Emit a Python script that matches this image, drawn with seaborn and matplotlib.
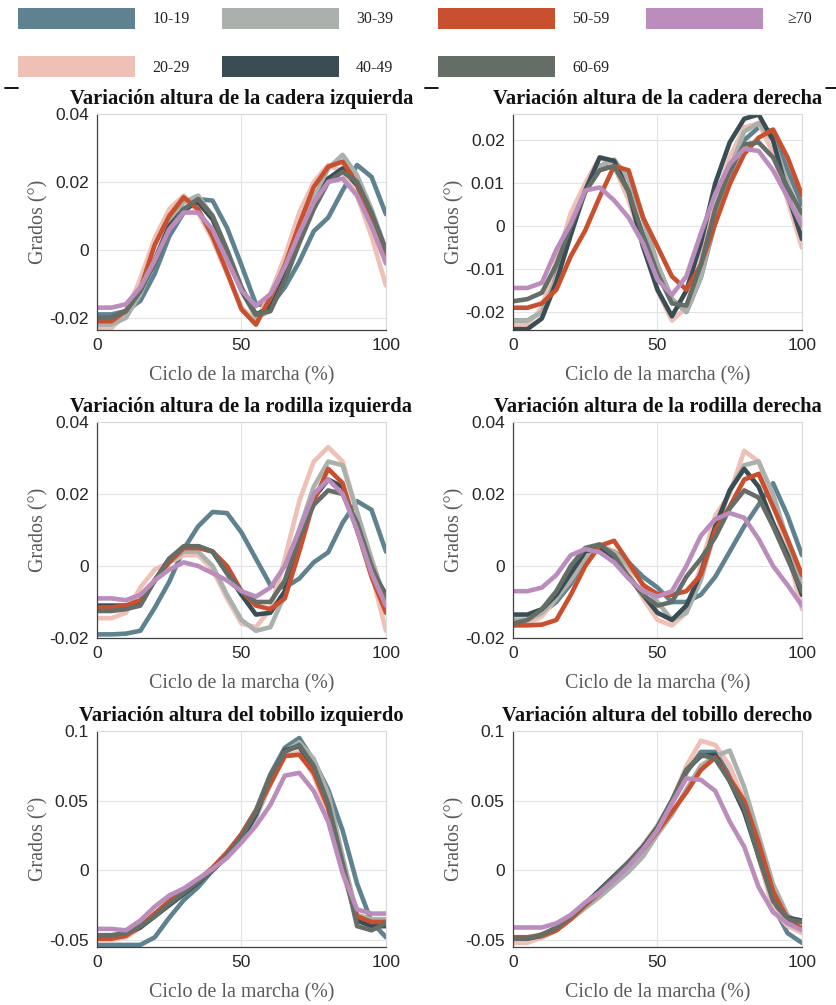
import matplotlib
matplotlib.use("Agg")
import matplotlib.pyplot as plt
from matplotlib.patches import Patch
from matplotlib.lines import Line2D
import pandas as pd
import seaborn as sns

# Percentage of the gait cycle at which every curve is sampled
ciclo = [0, 5, 10, 15, 20, 25, 30, 35, 40, 45, 50, 55, 60, 65, 70, 75, 80, 85, 90, 95, 100]

grupos = ["10-19", "20-29", "30-39", "40-49", "50-59", "60-69", "≥70"]
colores = ["#5f8290", "#efc0b6", "#aab0ab", "#3a4d55", "#c9502f", "#656e66", "#bb8dbd"]

# Mean curves per age group (same order as `grupos`)
cadera_izquierda = [
    [-0.019, -0.019, -0.018, -0.015, -0.007, 0.004, 0.011, 0.015, 0.0145, 0.0065, -0.0045, -0.016, -0.0165, -0.011, -0.0035, 0.0055, 0.0095, 0.0175, 0.025, 0.0215, 0.0105],
    [-0.023, -0.023, -0.019, -0.0085, 0.0035, 0.012, 0.016, 0.011, 0.003, -0.007, -0.017, -0.021, -0.013, -0.002, 0.011, 0.020, 0.025, 0.023, 0.016, 0.004, -0.0105],
    [-0.022, -0.022, -0.020, -0.013, -0.003, 0.008, 0.014, 0.016, 0.010, 0.000, -0.012, -0.020, -0.018, -0.008, 0.004, 0.015, 0.024, 0.028, 0.022, 0.012, 0.000],
    [-0.0205, -0.020, -0.018, -0.012, -0.003, 0.007, 0.012, 0.014, 0.009, -0.001, -0.012, -0.019, -0.017, -0.008, 0.003, 0.013, 0.021, 0.024, 0.019, 0.009, -0.003],
    [-0.021, -0.021, -0.018, -0.0115, 0.0015, 0.010, 0.0155, 0.012, 0.004, -0.0065, -0.0175, -0.022, -0.014, -0.0045, 0.0075, 0.0185, 0.0245, 0.026, 0.0195, 0.0085, -0.0015],
    [-0.020, -0.020, -0.018, -0.012, -0.004, 0.006, 0.012, 0.015, 0.010, 0.000, -0.011, -0.019, -0.018, -0.009, 0.002, 0.012, 0.020, 0.023, 0.020, 0.011, 0.000],
    [-0.017, -0.017, -0.016, -0.011, -0.003, 0.006, 0.011, 0.011, 0.006, -0.003, -0.012, -0.0165, -0.013, -0.005, 0.005, 0.014, 0.020, 0.021, 0.016, 0.007, -0.004],
]

cadera_derecha = [
    [-0.022, -0.022, -0.020, -0.011, -0.001, 0.008, 0.014, 0.015, 0.011, 0.002, -0.009, -0.017, -0.020, -0.012, 0.001, 0.012, 0.020, 0.023, 0.022, 0.013, 0.005],
    [-0.023, -0.023, -0.019, -0.008, 0.003, 0.010, 0.016, 0.014, 0.006, -0.004, -0.015, -0.022, -0.019, -0.008, 0.006, 0.016, 0.023, 0.024, 0.017, 0.006, -0.005],
    [-0.022, -0.022, -0.020, -0.012, -0.002, 0.008, 0.014, 0.0155, 0.011, 0.002, -0.009, -0.017, -0.020, -0.012, 0.002, 0.013, 0.022, 0.024, 0.020, 0.010, 0.002],
    [-0.024, -0.024, -0.0215, -0.013, -0.002, 0.0083, 0.016, 0.0152, 0.008, -0.0048, -0.0148, -0.021, -0.015, -0.004, 0.010, 0.0195, 0.025, 0.026, 0.020, 0.0075, -0.003],
    [-0.019, -0.019, -0.018, -0.0148, -0.007, -0.001, 0.0068, 0.014, 0.013, 0.002, -0.0048, -0.0117, -0.0148, -0.009, 0.0006, 0.0098, 0.0168, 0.0206, 0.0225, 0.016, 0.0072],
    [-0.0175, -0.017, -0.0155, -0.009, 0.000, 0.008, 0.013, 0.014, 0.008, -0.002, -0.011, -0.018, -0.0185, -0.009, 0.004, 0.013, 0.019, 0.0195, 0.016, 0.009, 0.003],
    [-0.0144, -0.0144, -0.0132, -0.0055, 0.0006, 0.0083, 0.009, 0.006, 0.002, -0.004, -0.0125, -0.016, -0.0117, -0.0017, 0.0075, 0.0145, 0.018, 0.0175, 0.013, 0.0068, 0.000],
]

rodilla_izquierda = [
    [-0.019, -0.019, -0.0188, -0.018, -0.0116, -0.0044, 0.0047, 0.011, 0.015, 0.0147, 0.0093, 0.002, -0.0053, -0.006, -0.0035, 0.001, 0.0038, 0.012, 0.018, 0.0156, 0.004],
    [-0.0145, -0.0145, -0.013, -0.006, -0.001, 0.001, 0.003, 0.003, -0.001, -0.009, -0.016, -0.017, -0.012, 0.002, 0.018, 0.029, 0.033, 0.029, 0.015, -0.002, -0.018],
    [-0.012, -0.012, -0.0115, -0.010, -0.004, 0.001, 0.004, 0.004, 0.000, -0.008, -0.015, -0.018, -0.017, -0.008, 0.010, 0.022, 0.029, 0.028, 0.015, 0.002, -0.010],
    [-0.011, -0.011, -0.011, -0.010, -0.004, 0.002, 0.005, 0.0055, 0.004, -0.002, -0.008, -0.0135, -0.013, -0.007, 0.008, 0.019, 0.024, 0.022, 0.010, -0.001, -0.008],
    [-0.0115, -0.0115, -0.011, -0.0095, -0.004, 0.001, 0.005, 0.005, 0.004, 0.000, -0.007, -0.011, -0.012, -0.009, 0.004, 0.018, 0.027, 0.023, 0.010, -0.003, -0.013],
    [-0.0125, -0.0125, -0.012, -0.011, -0.004, 0.002, 0.0055, 0.0055, 0.004, -0.002, -0.007, -0.010, -0.010, -0.004, 0.008, 0.017, 0.021, 0.020, 0.012, 0.000, -0.009],
    [-0.009, -0.009, -0.0095, -0.008, -0.004, -0.001, 0.001, 0.000, -0.002, -0.004, -0.007, -0.0085, -0.006, 0.000, 0.010, 0.020, 0.024, 0.020, 0.010, -0.002, -0.011],
]

rodilla_derecha = [
    [-0.015, -0.015, -0.013, -0.010, -0.005, 0.002, 0.005, 0.004, 0.001, -0.003, -0.006, -0.010, -0.010, -0.008, -0.003, 0.004, 0.011, 0.017, 0.023, 0.014, 0.003],
    [-0.016, -0.016, -0.014, -0.009, -0.003, 0.002, 0.006, 0.004, -0.002, -0.009, -0.015, -0.0165, -0.013, 0.000, 0.014, 0.020, 0.032, 0.029, 0.018, 0.004, -0.012],
    [-0.015, -0.015, -0.013, -0.009, -0.004, 0.002, 0.005, 0.004, 0.000, -0.005, -0.010, -0.015, -0.013, -0.004, 0.010, 0.021, 0.028, 0.029, 0.020, 0.007, -0.005],
    [-0.0135, -0.0135, -0.012, -0.008, -0.002, 0.004, 0.005, 0.002, -0.003, -0.008, -0.013, -0.015, -0.011, -0.002, 0.011, 0.021, 0.027, 0.022, 0.012, 0.003, -0.008],
    [-0.0165, -0.0165, -0.0163, -0.015, -0.008, 0.000, 0.0056, 0.007, 0.001, -0.0053, -0.0078, -0.008, -0.007, -0.0025, 0.010, 0.0165, 0.024, 0.0256, 0.0165, 0.0075, -0.0025],
    [-0.016, -0.015, -0.012, -0.007, 0.000, 0.005, 0.006, 0.003, -0.003, -0.008, -0.011, -0.010, -0.003, 0.002, 0.008, 0.016, 0.021, 0.019, 0.011, 0.002, -0.007],
    [-0.007, -0.007, -0.006, -0.0025, 0.003, 0.0047, 0.0038, 0.001, -0.0035, -0.007, -0.0085, -0.007, 0.000, 0.0084, 0.013, 0.0147, 0.0134, 0.0075, 0.000, -0.0053, -0.011],
]

tobillo_izquierdo = [
    [-0.0535, -0.0535, -0.0535, -0.0535, -0.048, -0.034, -0.0214, -0.012, 0.000, 0.012, 0.026, 0.043, 0.069, 0.088, 0.095, 0.0786, 0.058, 0.0286, -0.0095, -0.037, -0.048],
    [-0.050, -0.050, -0.048, -0.041, -0.031, -0.022, -0.015, -0.007, 0.001, 0.011, 0.024, 0.040, 0.063, 0.082, 0.085, 0.068, 0.040, -0.002, -0.035, -0.040, -0.040],
    [-0.048, -0.048, -0.046, -0.040, -0.032, -0.024, -0.017, -0.009, 0.000, 0.010, 0.022, 0.038, 0.062, 0.085, 0.092, 0.080, 0.055, 0.010, -0.032, -0.035, -0.035],
    [-0.047, -0.047, -0.046, -0.041, -0.033, -0.025, -0.017, -0.009, 0.000, 0.010, 0.022, 0.040, 0.066, 0.086, 0.089, 0.073, 0.046, 0.002, -0.036, -0.040, -0.040],
    [-0.049, -0.049, -0.047, -0.040, -0.031, -0.022, -0.014, -0.007, 0.002, 0.013, 0.026, 0.043, 0.062, 0.082, 0.083, 0.070, 0.045, 0.003, -0.033, -0.037, -0.037],
    [-0.0465, -0.0465, -0.045, -0.040, -0.033, -0.024, -0.016, -0.008, 0.000, 0.011, 0.024, 0.042, 0.068, 0.085, 0.090, 0.075, 0.048, 0.005, -0.040, -0.043, -0.038],
    [-0.042, -0.042, -0.043, -0.036, -0.026, -0.018, -0.013, -0.006, 0.001, 0.009, 0.020, 0.032, 0.047, 0.068, 0.070, 0.057, 0.035, -0.002, -0.028, -0.031, -0.031],
]

tobillo_derecho = [
    [-0.050, -0.050, -0.048, -0.043, -0.035, -0.026, -0.016, -0.005, 0.005, 0.018, 0.032, 0.050, 0.070, 0.085, 0.085, 0.068, 0.050, 0.010, -0.025, -0.045, -0.052],
    [-0.052, -0.052, -0.048, -0.042, -0.032, -0.024, -0.016, -0.006, 0.006, 0.018, 0.032, 0.050, 0.075, 0.093, 0.090, 0.075, 0.050, 0.010, -0.028, -0.040, -0.045],
    [-0.048, -0.048, -0.046, -0.042, -0.035, -0.027, -0.019, -0.010, -0.001, 0.010, 0.026, 0.040, 0.058, 0.075, 0.082, 0.086, 0.060, 0.025, -0.010, -0.032, -0.040],
    [-0.049, -0.049, -0.047, -0.042, -0.034, -0.024, -0.014, -0.004, 0.006, 0.017, 0.031, 0.050, 0.072, 0.082, 0.083, 0.064, 0.042, 0.010, -0.020, -0.034, -0.036],
    [-0.048, -0.048, -0.047, -0.043, -0.035, -0.025, -0.016, -0.006, 0.004, 0.015, 0.028, 0.042, 0.056, 0.072, 0.081, 0.066, 0.050, 0.020, -0.015, -0.035, -0.042],
    [-0.049, -0.049, -0.046, -0.041, -0.033, -0.024, -0.015, -0.005, 0.006, 0.016, 0.030, 0.050, 0.072, 0.083, 0.080, 0.064, 0.045, 0.010, -0.022, -0.035, -0.037],
    [-0.041, -0.041, -0.041, -0.038, -0.032, -0.023, -0.016, -0.007, 0.003, 0.015, 0.029, 0.048, 0.066, 0.065, 0.057, 0.035, 0.017, -0.012, -0.030, -0.038, -0.043],
]

titulos = [
    "Variación altura de la cadera izquierda", "Variación altura de la cadera derecha",
    "Variación altura de la rodilla izquierda", "Variación altura de la rodilla derecha",
    "Variación altura del tobillo izquierdo", "Variación altura del tobillo derecho",
]
paneles = [cadera_izquierda, cadera_derecha, rodilla_izquierda,
           rodilla_derecha, tobillo_izquierdo, tobillo_derecho]

limites_y = [(-0.0236, 0.04), (-0.0242, 0.0261), (-0.02, 0.04),
             (-0.02, 0.04), (-0.055, 0.1), (-0.055, 0.1)]
ticks_y = [[-0.02, 0, 0.02, 0.04], [-0.02, -0.01, 0, 0.01, 0.02],
           [-0.02, 0, 0.02, 0.04], [-0.02, 0, 0.02, 0.04],
           [-0.05, 0, 0.05, 0.1], [-0.05, 0, 0.05, 0.1]]
etiquetas_y = [["-0.02", "0", "0.02", "0.04"], ["-0.02", "-0.01", "0", "0.01", "0.02"],
               ["-0.02", "0", "0.02", "0.04"], ["-0.02", "0", "0.02", "0.04"],
               ["-0.05", "0", "0.05", "0.1"], ["-0.05", "0", "0.05", "0.1"]]
ticks_x = [0, 50, 100]
etiquetas_x = ["0", "50", "100"]

sns.set_style("white")
plt.rcParams["font.family"] = ["Liberation Sans", "DejaVu Sans"]
plt.rcParams["axes.unicode_minus"] = False

serif = ["Liberation Serif", "DejaVu Serif"]
gris_texto = "#5a5a5a"
gris_rejilla = "#e3e3e3"

fig = plt.figure(figsize=(8.36, 10.05), dpi=100)

col_x = [0.116, 0.6136]
fila_y = [0.6716, 0.3652, 0.0577]
ancho, alto = 0.3457, 0.2149

for i, (datos, titulo) in enumerate(zip(paneles, titulos)):
    fila, col = divmod(i, 2)
    ax = fig.add_axes([col_x[col], fila_y[fila], ancho, alto])

    df = pd.DataFrame(
        [(c, v, g) for g, serie in zip(grupos, datos) for c, v in zip(ciclo, serie)],
        columns=["ciclo", "grados", "grupo"],
    )
    sns.lineplot(data=df, x="ciclo", y="grados", hue="grupo", hue_order=grupos,
                 palette=colores, linewidth=3.3, legend=False, estimator=None,
                 sort=False, ax=ax)

    ax.set_xlim(0, 100)
    ax.set_ylim(*limites_y[i])
    ax.set_xticks(ticks_x)
    ax.set_xticklabels(etiquetas_x)
    ax.set_yticks(ticks_y[i])
    ax.set_yticklabels(etiquetas_y[i])
    ax.tick_params(length=0, pad=6, labelsize=12.5, colors="#262626")
    ax.grid(True, color=gris_rejilla, linewidth=0.8)
    ax.set_axisbelow(True)

    for lado in ("left", "bottom"):
        ax.spines[lado].set_color("#404040")
        ax.spines[lado].set_linewidth(0.9)
    for lado in ("top", "right"):
        ax.spines[lado].set_color("#d9d9d9")
        ax.spines[lado].set_linewidth(0.8)

    ax.set_title(titulo, family=serif, fontweight="bold", fontsize=14.8,
                 color="#111111", pad=7)
    ax.set_xlabel("Ciclo de la marcha (%)", family=serif, fontsize=14.4,
                  color=gris_texto, labelpad=9)
    ax.set_ylabel("Grados (°)", family=serif, fontsize=14.4,
                  color=gris_texto, labelpad=0.5)

# Legend of age groups across the top: one column of swatches per block
manejadores = [Patch(facecolor=c, edgecolor="none", label=g) for g, c in zip(grupos, colores)]
columnas = [(manejadores[0:2], 18, 1.1), (manejadores[2:4], 222, 1.1),
            (manejadores[4:6], 438, 1.1), (manejadores[6:7], 646, 1.56)]
for handles, x_izq, sep in columnas:
    fig.legend(handles=handles, loc="upper left", ncol=1,
               bbox_to_anchor=(x_izq / 836, 1 - 8 / 1005), frameon=False,
               prop={"family": serif, "size": 11.5}, handlelength=7.3,
               handleheight=1.6, handletextpad=sep,
               labelspacing=1.75, borderpad=0, borderaxespad=0,
               labelcolor="#222222")

# Short frame marks under the legend
for x0, x1 in [(5, 18), (425, 438), (826, 836)]:
    fig.add_artist(Line2D([x0 / 836, x1 / 836], [1 - 88 / 1005] * 2,
                          color="black", linewidth=1.3))

fig.savefig("out.png", dpi=100)
